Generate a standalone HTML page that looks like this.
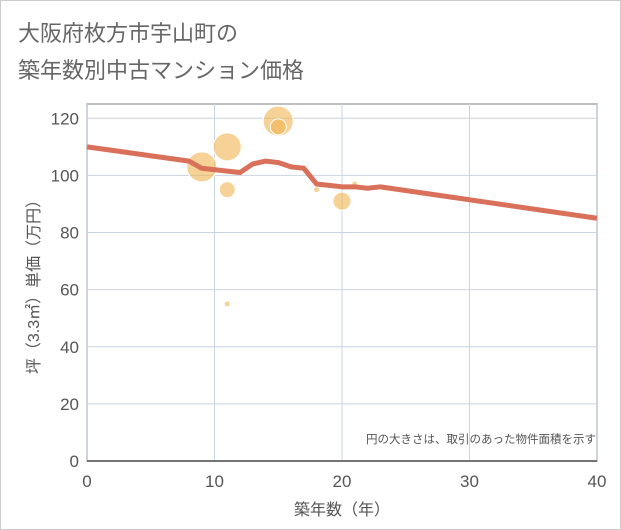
<!DOCTYPE html>
<html><head><meta charset="utf-8"><style>
body{margin:0;background:#fff;}
#wrap{width:619px;height:528px;border:1px solid #ccc;position:relative;overflow:hidden;font-family:"Liberation Sans","Noto Sans CJK JP",sans-serif;}
</style></head><body>
<div id="wrap">
<svg id="chart" width="621" height="530">
<text x="17" y="40" font-size="22" fill="#666" font-family="'Liberation Sans','Noto Sans CJK JP',sans-serif">大阪府枚方市宇山町の</text>
<text x="17" y="77" font-size="22" fill="#666" font-family="'Liberation Sans','Noto Sans CJK JP',sans-serif">築年数別中古マンション価格</text>
<g id="grid"></g><g id="marks"></g><g id="axes"></g>
<text x="595" y="442" font-size="11.5" fill="#555" text-anchor="end" font-family="'Liberation Sans','Noto Sans CJK JP',sans-serif">円の大きさは、取引のあった物件面積を示す</text>
<text x="341" y="514" font-size="16" fill="#555" text-anchor="middle" font-family="'Liberation Sans','Noto Sans CJK JP',sans-serif">築年数（年）</text>
<text transform="translate(38,282) rotate(-90)" font-size="16" fill="#555" text-anchor="middle" font-family="'Liberation Sans','Noto Sans CJK JP',sans-serif">坪（3.3㎡）単価（万円）</text>
</svg>
</div>
<script>
const xTicks=[0,10,20,30,40];
const yTicks=[0,20,40,60,80,100,120];
const bubbleAge=[9,11,11,11,15,15,18,20,21];
const bubblePrice=[103,110,95,55,119,117,95,91,97];
const bubbleSize=[15,14,8,3,15,8,3,9,3];
const lineAge=[0,8,9,11,12,13,14,15,16,17,18,19,20,21,22,23,40];
const linePrice=[110,105,102.5,101.5,101,104,105,104.5,103,102.5,97,96.5,96,96,95.5,96,85];
const X0=86,X1=596,Y0=460,Y1=103;
const xs=v=>X0+(v-0)/40*(X1-X0);
const ys=v=>Y0-v/125*(Y0-Y1);
const NS="http://www.w3.org/2000/svg";
function mk(t,a,p){const e=document.createElementNS(NS,t);for(const k in a)e.setAttribute(k,a[k]);p.appendChild(e);return e;}
const grid=document.getElementById('grid'),marks=document.getElementById('marks'),axes=document.getElementById('axes');
const bg=mk('rect',{x:X0,y:Y1,width:X1-X0,height:Y0-Y1,fill:'#fff',stroke:'#aaa','stroke-width':1.5},grid);


xTicks.forEach(t=>{
 const l=mk('line',{x1:xs(t),x2:xs(t),y1:Y1,y2:Y0,stroke:'#c8d4e0'},grid);
 
 
 const tx=mk('text',{x:xs(t),y:Y0+26,'font-size':17,fill:'#555','text-anchor':'middle'},axes);
 tx.textContent=t;
 
 
});
yTicks.forEach(t=>{
 const l=mk('line',{x1:X0,x2:X1,y1:ys(t),y2:ys(t),stroke:'#c8d4e0'},grid);
 
 
 const tx=mk('text',{x:X0-8,y:ys(t)+6,'font-size':17,fill:'#555','text-anchor':'end'},axes);
 tx.textContent=t;
 
 
});
const ax=mk('line',{x1:X0,x2:X1,y1:Y0,y2:Y0,stroke:'#555','stroke-width':1.5},axes);


bubbleAge.forEach((a,i)=>{
 const c=mk('circle',{cx:xs(a),cy:ys(bubblePrice[i]),r:bubbleSize[i],fill:'#f0b450','fill-opacity':0.6,stroke:'#fff','stroke-width':1},marks);
 
 
});
const p=mk('polyline',{points:lineAge.map((a,i)=>xs(a)+','+ys(linePrice[i])).join(' '),fill:'none',stroke:'#d9705a','stroke-width':5,'stroke-linejoin':'round'},marks);


</script>
</body></html>
